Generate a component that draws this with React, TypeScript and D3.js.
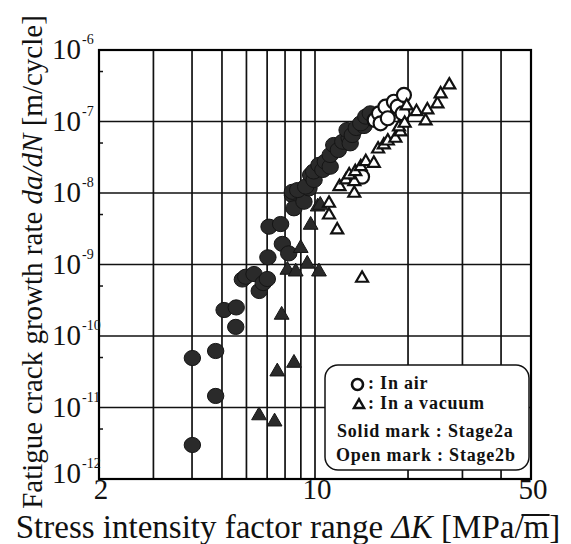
import React, { useEffect, useRef } from 'react'
import * as d3 from 'd3'

// [ΔK (MPa√m), da/dN (m/cycle)]
const airSolid: [number, number][] = [
  [4.01, 2.99e-12], [4.01, 4.92e-11], [4.77, 1.45e-11], [4.77, 6.17e-11],
  [5.08, 2.31e-10], [5.56, 2.51e-10], [5.54, 1.34e-10], [5.82, 6.17e-10],
  [5.97, 6.75e-10], [6.35, 7.36e-10], [6.6, 4.26e-10], [6.8, 5.5e-10],
  [7.01, 6.27e-10], [7.04, 1.26e-9], [7.1, 3.38e-9], [7.74, 3.68e-9],
  [7.84, 1.94e-9], [8.22, 1.43e-9], [8.45, 9.37e-9], [8.55, 6.11e-9],
  [9.21, 7.55e-9], [9.56, 1.16e-8], [8.45, 1.04e-8], [8.79, 1.1e-8],
  [9.33, 1.23e-8], [9.68, 1.79e-8], [9.93, 1.52e-8], [9.9, 2.0e-8],
  [10.3, 2.47e-8], [10.6, 2.1e-8], [10.8, 2.74e-8], [11.2, 2.33e-8],
  [11.2, 3.4e-8], [11.5, 4.69e-8], [11.9, 3.99e-8], [12.3, 5.22e-8],
  [12.9, 5.9e-8], [12.7, 7.6e-8], [13.0, 4.95e-8], [13.2, 6.47e-8],
  [13.6, 8.11e-8], [14.4, 8.65e-8], [14.06, 9.44e-8], [14.6, 1.17e-7],
  [15.1, 1.3e-7],
]

const airOpen: [number, number][] = [
  [14.2, 1.69e-8], [15.6, 1.05e-7], [16.1, 1.3e-7], [16.3, 9.44e-8],
  [16.9, 1.61e-7], [17.2, 1.11e-7], [18.0, 1.89e-7], [18.5, 1.61e-7],
  [19.2, 1.3e-7], [19.4, 2.35e-7],
]

const vacuumSolid: [number, number][] = [
  [6.59, 7.73e-12], [7.4, 6.33e-12], [7.55, 3.17e-11], [8.55, 4.19e-11],
  [7.8, 1.97e-10], [8.14, 8.38e-10], [8.66, 7.93e-10], [9.44, 1.02e-9],
  [10.3, 7.93e-10], [8.99, 1.69e-9], [9.68, 3.57e-9], [10.2, 6.43e-9],
  [10.4, 6.79e-9],
]

const vacuumOpen: [number, number][] = [
  [14.2, 6.41e-10], [11.8, 3.04e-9], [11.1, 4.92e-9], [11.1, 7.18e-9],
  [13.4, 9.9e-9], [12.0, 1.23e-8], [12.6, 1.52e-8], [13.4, 1.44e-8],
  [12.9, 1.79e-8], [13.5, 1.99e-8], [14.06, 2.33e-8], [14.6, 2.74e-8],
  [15.5, 2.6e-8], [16.0, 4.12e-8], [16.7, 4.69e-8], [17.2, 5.33e-8],
  [18.2, 5.82e-8], [18.9, 7.13e-8], [18.7, 8.38e-8], [19.5, 9.44e-8],
  [22.8, 1.02e-7], [19.8, 1.65e-7], [21.3, 1.37e-7], [23.1, 1.45e-7],
  [24.9, 1.76e-7], [25.5, 2.43e-7], [27.2, 3.24e-7],
]

const yExponents = [-12, -11, -10, -9, -8, -7, -6]
const xGridValues = [3, 4, 5, 6, 7, 8, 9, 10, 20, 30, 40]
const xLabels = [2, 10, 50]

export default function App() {
  const ref = useRef<SVGSVGElement>(null)

  useEffect(() => {
    const svg = d3.select(ref.current)
    svg.selectAll('*').remove()
    const left = 99, right = 531, top = 50, bottom = 479
    const serif = '"Liberation Serif", "Times New Roman", serif'

    const x = d3.scaleLog().domain([2, 50]).range([left, right])
    const y = d3.scaleLog().domain([1e-12, 1e-6]).range([bottom, top])

    // grid lines
    svg.append('g').selectAll('line').data(xGridValues).join('line')
      .attr('x1', d => x(d)).attr('x2', d => x(d))
      .attr('y1', top).attr('y2', bottom)
      .attr('stroke', '#111').attr('stroke-width', 1.7)
    svg.append('g').selectAll('line').data(yExponents.slice(1, -1)).join('line')
      .attr('x1', left).attr('x2', right)
      .attr('y1', d => y(Math.pow(10, d))).attr('y2', d => y(Math.pow(10, d)))
      .attr('stroke', '#111').attr('stroke-width', 1.7)

    // minor ticks at 5x10^n
    svg.append('g').selectAll('line').data(yExponents.slice(0, -1)).join('line')
      .attr('x1', left).attr('x2', left + 4)
      .attr('y1', d => y(5 * Math.pow(10, d))).attr('y2', d => y(5 * Math.pow(10, d)))
      .attr('stroke', '#111').attr('stroke-width', 1.5)

    // frame
    svg.append('rect')
      .attr('x', left).attr('y', top)
      .attr('width', right - left).attr('height', bottom - top)
      .attr('fill', 'none').attr('stroke', '#000').attr('stroke-width', 2.2)

    // marks
    svg.append('g').selectAll('ellipse').data(airSolid).join('ellipse')
      .attr('cx', d => x(d[0])).attr('cy', d => y(d[1]))
      .attr('rx', 8.2).attr('ry', 7.6)
      .attr('fill', '#2a2a2a').attr('stroke', '#151515').attr('stroke-width', 1)

    const triFilled = d3.symbol(d3.symbolTriangle, 95)
    svg.append('g').selectAll('path').data(vacuumSolid).join('path')
      .attr('d', triFilled)
      .attr('transform', d => `translate(${x(d[0])},${y(d[1])})`)
      .attr('fill', '#2a2a2a').attr('stroke', '#151515').attr('stroke-width', 1)

    svg.append('g').selectAll('ellipse').data(airOpen).join('ellipse')
      .attr('cx', d => x(d[0])).attr('cy', d => y(d[1]))
      .attr('rx', 7).attr('ry', 7)
      .attr('fill', '#fff').attr('stroke', '#111').attr('stroke-width', 2.2)

    const triOpen = d3.symbol(d3.symbolTriangle, 62)
    svg.append('g').selectAll('path').data(vacuumOpen).join('path')
      .attr('d', triOpen)
      .attr('transform', d => `translate(${x(d[0])},${y(d[1])})`)
      .attr('fill', '#fff').attr('stroke', '#111').attr('stroke-width', 2.2)

    // y tick labels
    const yl = svg.append('g').attr('font-family', serif).attr('fill', '#111')
    yExponents.forEach(e => {
      const t = yl.append('text').attr('x', 52).attr('y', y(Math.pow(10, e)) + (e === -12 ? 4 : 9))
        .attr('font-size', 29)
      t.append('tspan').text('10')
      t.append('tspan').attr('dy', -15).attr('dx', 1).attr('font-size', 14).text(String(e))
    })

    // x tick labels
    svg.append('g').selectAll('text').data(xLabels).join('text')
      .attr('x', d => x(d) + 2).attr('y', 499)
      .attr('text-anchor', 'middle')
      .attr('font-family', serif).attr('font-size', 29).attr('fill', '#111')
      .text(d => d)

    // axis titles
    const xt = svg.append('text').attr('x', 288).attr('y', 538)
      .attr('text-anchor', 'middle').attr('font-family', serif)
      .attr('font-size', 33).attr('fill', '#111')
    xt.append('tspan').text('Stress intensity factor range ')
    xt.append('tspan').attr('font-style', 'italic').text('ΔK')
    const slash = xt.append('tspan').text('  [MPa/')
    const unitM = xt.append('tspan').text('m')
    xt.append('tspan').text(']')
    const sb = (slash.node() as SVGTSpanElement).getBBox()
    const mb = (unitM.node() as SVGTSpanElement).getBBox()
    // radical bar over m
    svg.append('line')
      .attr('x1', sb.x + sb.width - 3).attr('x2', mb.x + mb.width)
      .attr('y1', 538 - 23).attr('y2', 538 - 23)
      .attr('stroke', '#111').attr('stroke-width', 2)

    const yt = svg.append('text')
      .attr('transform', 'translate(42,262) rotate(-90)')
      .attr('text-anchor', 'middle').attr('font-family', serif)
      .attr('font-size', 29).attr('fill', '#111')
    yt.append('tspan').text('Fatigue crack growth rate ')
    yt.append('tspan').attr('font-style', 'italic').text('da/dN')
    yt.append('tspan').text('  [m/cycle]')

    // legend
    const lg = svg.append('g')
    lg.append('rect').attr('x', 325).attr('y', 365).attr('width', 204).attr('height', 105)
      .attr('rx', 13).attr('fill', '#fff').attr('stroke', '#111').attr('stroke-width', 1.5)
    lg.append('circle').attr('cx', 357.5).attr('cy', 384.5).attr('r', 5.5)
      .attr('fill', 'none').attr('stroke', '#111').attr('stroke-width', 2.6)
    lg.append('path').attr('d', d3.symbol(d3.symbolTriangle, 45)())
      .attr('transform', 'translate(359,405)')
      .attr('fill', 'none').attr('stroke', '#111').attr('stroke-width', 2.4)
    const legendText = [
      { tx: 368, ty: 389, s: ': In air' },
      { tx: 368, ty: 409, s: ': In a vacuum' },
      { tx: 337, ty: 437, s: 'Solid mark : Stage2a' },
      { tx: 336, ty: 461, s: 'Open mark : Stage2b' },
    ]
    lg.selectAll('text.lt').data(legendText).join('text')
      .attr('class', 'lt')
      .attr('x', d => d.tx).attr('y', d => d.ty)
      .attr('font-family', serif).attr('font-weight', 'bold')
      .attr('font-size', 18).attr('letter-spacing', 0.8).attr('fill', '#111')
      .text(d => d.s)
  }, [])

  return (
    <svg ref={ref} width={571} height={544}
      style={{ position: 'absolute', left: 0, top: 0, background: '#fff' }} />
  )
}
